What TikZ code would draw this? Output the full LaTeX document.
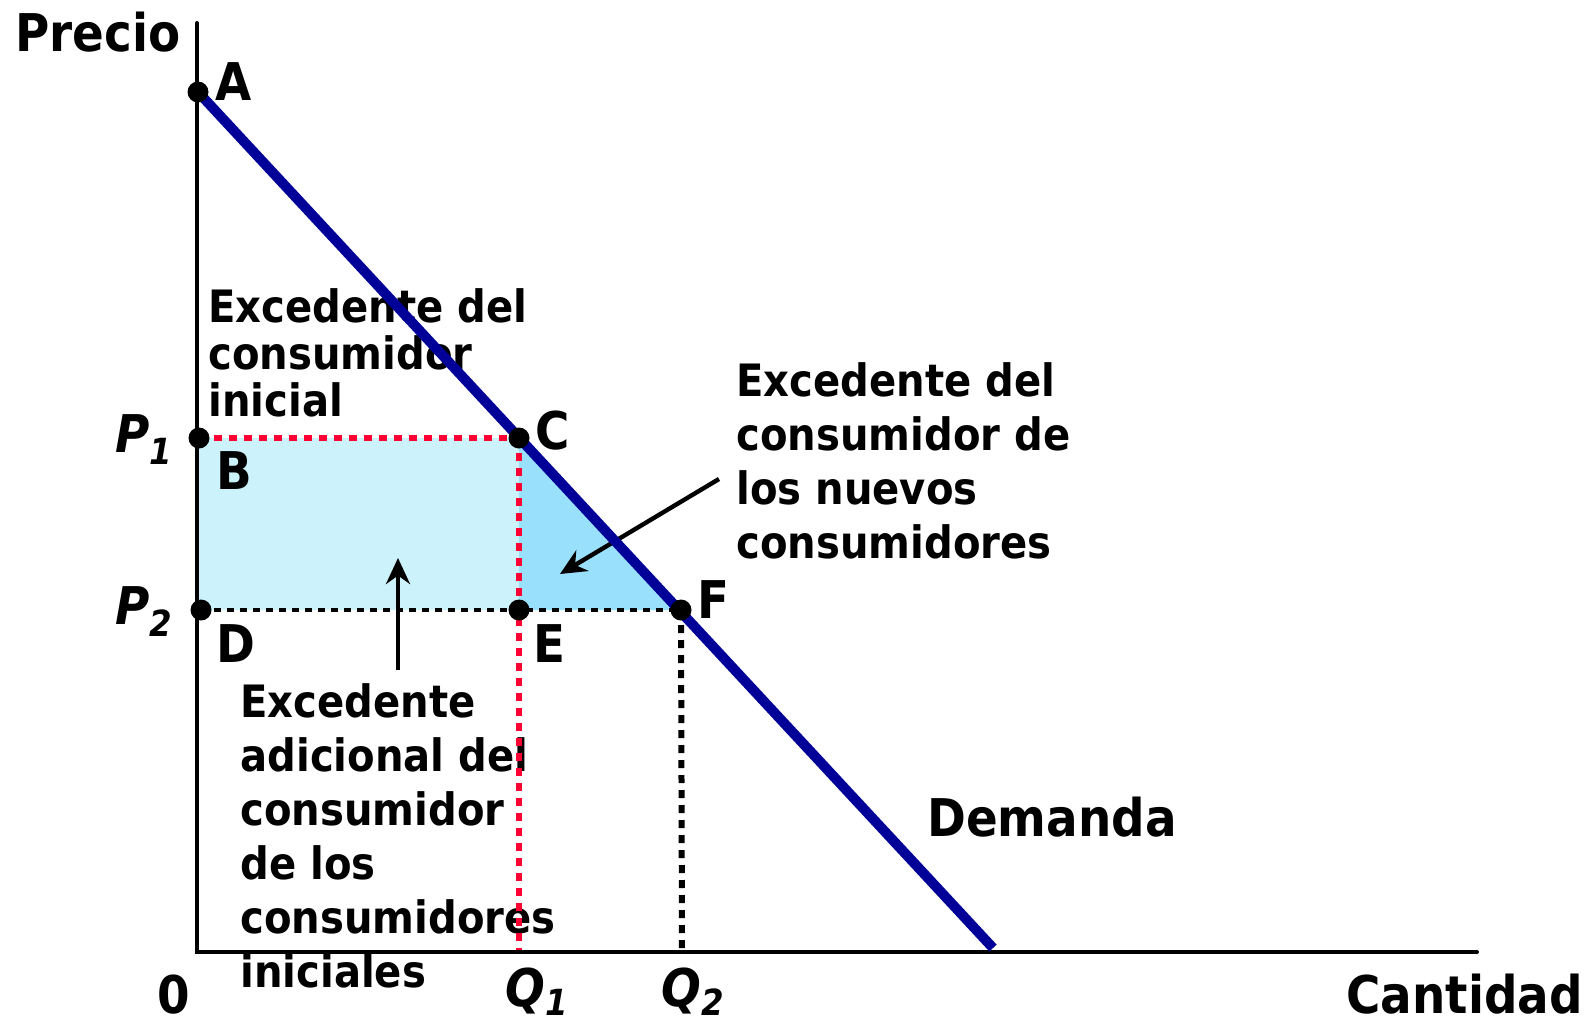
\documentclass[tikz,border=0pt]{standalone}
\usepackage{fontspec}
\setmainfont{DejaVu Sans}[FakeStretch=0.9]
\usetikzlibrary{arrows.meta}
\definecolor{demcol}{RGB}{0,0,153}
\definecolor{redcol}{RGB}{255,0,51}
\definecolor{lightfill}{RGB}{204,242,252}
\definecolor{darkfill}{RGB}{153,224,252}
\tikzset{
  big/.style={font=\fontsize{26}{30}\selectfont\bfseries, inner sep=0pt, anchor=base west},
  bigit/.style={font=\fontsize{26}{30}\selectfont\bfseries\itshape, inner sep=0pt, anchor=base west},
  txt/.style={font=\fontsize{22.3}{27}\selectfont\bfseries, inner sep=0pt, anchor=base west, align=left},
  txttight/.style={font=\fontsize{22.3}{23.3}\selectfont\bfseries, inner sep=0pt, anchor=base west, align=left},
  dot/.style={circle, fill=black, inner sep=0pt, minimum size=10.5pt},
  axisline/.style={line width=2pt, line cap=round},
  demline/.style={line width=5pt, draw=demcol},
  reddots/.style={line width=3.2pt, draw=redcol, dash pattern=on 4pt off 3.5pt},
  thindots/.style={line width=1.7pt, dash pattern=on 3.5pt off 3pt},
  thickdots/.style={line width=3pt, dash pattern=on 4pt off 3.5pt},
  pointer/.style={line width=2.2pt, -{Stealth[length=13pt,width=12pt]}}
}
\newcommand{\subl}[1]{\raisebox{-6pt}{\fontsize{18}{20}\selectfont #1}}
\newcommand{\subq}[1]{\raisebox{-4.5pt}{\fontsize{18}{20}\selectfont #1}}
\begin{document}
\begin{tikzpicture}[x=0.5pt,y=-0.5pt]
\useasboundingbox (0,0) rectangle (1592,1023);
% key coordinates
\coordinate (O) at (197,952);
\coordinate (Ytop) at (197,23);
\coordinate (Xend) at (1477,952);
\coordinate (A) at (198,92);
\coordinate (B) at (199,438);
\coordinate (C) at (519,438);
\coordinate (D) at (201,610);
\coordinate (E) at (519,610);
\coordinate (F) at (681,610);
\coordinate (Dend) at (993,948);
\coordinate (Q1) at (519,952);
\coordinate (Q2) at (682,952);
\coordinate (Bax) at (197,438);
\coordinate (Dax) at (197,610);
% fills
\fill[lightfill] (Bax) -- (C) -- (E) -- (Dax) -- cycle;
\fill[darkfill] (C) -- (F) -- (E) -- cycle;
% texts
\node[big] (tPrecio) at (15,51) {Precio};
\node[big] (tCantidad) at (1346,1013) {Cantidad};
\node[big] (tDemanda) at (927,836) {Demanda};
\node[big] (tA) at (215,100) {A};
\node[big] (tB) at (216,489) {B};
\node[big] (tC) at (535,449) {C};
\node[big] (tD) at (216,662) {D};
\node[big] (tE) at (533,662) {E};
\node[big] (tF) at (697,618) {F};
\node[big] (t0) at (157,1013) {0};
\node[bigit] (tP1) at (115,452) {P\subl{1}};
\node[bigit] (tP2) at (115,624) {P\subl{2}};
\node[bigit] (tQ1) at (505,1006) {Q\subq{1}};
\node[bigit] (tQ2) at (661,1006) {Q\subq{2}};
% multi-line nodes: positioned at the baseline of their last line
\node[txttight] (tInicial) at (208,416) {Excedente del\\consumidor\\inicial};
\node[txt] (tNuevos) at (736,558) {Excedente del\\consumidor de\\los nuevos\\consumidores};
\node[txt] (tAdic) at (240,987) {Excedente\\adicional del\\consumidor\\de los\\consumidores\\iniciales};
% arrows
\coordinate (upfrom) at (398,670);
\coordinate (upto) at (398,558);
\coordinate (dgfrom) at (719,479);
\coordinate (dgto) at (560,574);
\draw[pointer] (upfrom) -- (upto);
\draw[pointer] (dgfrom) -- (dgto);
% dotted guides
\draw[reddots] (B) -- (C);
\draw[reddots] (C) -- (Q1);
\draw[thindots] (D) -- (F);
\draw[thickdots] (F) -- (Q2);
% axes
\draw[axisline] (Ytop) -- (O) -- (Xend);
% demand
\draw[demline] (A) -- (Dend);
% dots
\node[dot] (nA) at (A) {};
\node[dot] (nB) at (B) {};
\node[dot] (nC) at (C) {};
\node[dot] (nD) at (D) {};
\node[dot] (nE) at (E) {};
\node[dot] (nF) at (F) {};
\end{tikzpicture}
\end{document}
